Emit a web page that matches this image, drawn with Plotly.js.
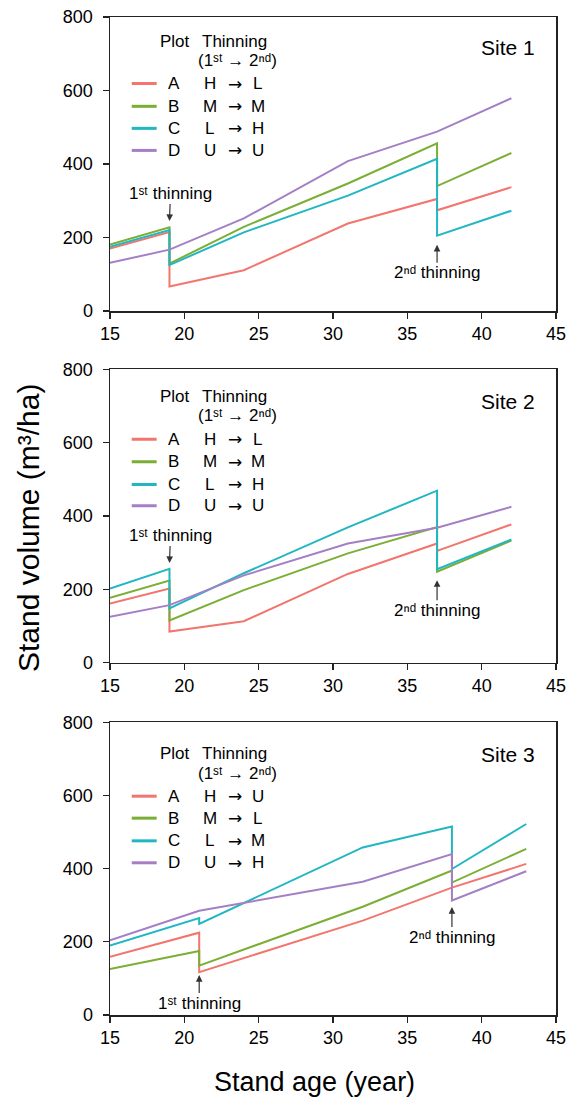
<!DOCTYPE html>
<html>
<head>
<meta charset="utf-8">
<script src="https://cdn.plot.ly/plotly-3.0.1.min.js"></script>
<style>html,body{margin:0;padding:0;background:#fff;}#chart{width:573px;height:1101px;}</style>
</head>
<body>
<div id="chart"></div>
<script>
// ---- data ----
const plotNames = ['A', 'B', 'C', 'D'];
const colors = ['#F2766E', '#7AAE35', '#20B7C2', '#A47FC6'];

// Site 1 & 2: thinnings at age 19 and 37
const ageThin12 = [15, 19, 19, 24, 31, 37, 37, 42];
const ageUnthin12 = [15, 19, 24, 31, 37, 42];
const site1A = [170, 215, 67, 111, 238, 305, 274, 337];
const site1B = [181, 228, 129, 229, 347, 456, 340, 430];
const site1C = [175, 220, 125, 214, 314, 414, 205, 273];
const site1D = [131, 167, 252, 408, 488, 579];

const site2A = [161, 202, 85, 113, 242, 325, 305, 377];
const site2B = [177, 224, 115, 198, 298, 370, 248, 333];
const site2C = [202, 256, 148, 244, 369, 469, 255, 336];
const site2D = [125, 157, 238, 325, 368, 425];

// Site 3: thinnings at age 21 and 38
const ageThin3 = [15, 21, 21, 32, 38, 38, 43];
const ageA3 = [15, 21, 21, 32, 38, 43];
const ageD3 = [15, 21, 32, 38, 38, 43];
const site3A = [159, 225, 117, 258, 348, 413];
const site3B = [126, 175, 135, 296, 395, 362, 454];
const site3C = [190, 265, 249, 458, 515, 399, 522];
const site3D = [204, 285, 364, 440, 313, 393];

const firstThin = ['H', 'M', 'L', 'U'];
const secondThin12 = ['L', 'M', 'H', 'U'];
const secondThin3 = ['U', 'L', 'M', 'H'];

const xTicks = [15, 20, 25, 30, 35, 40, 45];
const yTicks = [0, 200, 400, 600, 800];

// ---- build ----
const sites = [
  {ax: '', xs: [ageThin12, ageThin12, ageThin12, ageUnthin12], ys: [site1A, site1B, site1C, site1D], second: secondThin12,
   legY: [734, 681, 619, 557, 497, 437], siteY: 716, label: 'Site 1'},
  {ax: '2', xs: [ageThin12, ageThin12, ageThin12, ageUnthin12], ys: [site2A, site2B, site2C, site2D], second: secondThin12,
   legY: [727, 673, 609, 548, 486, 428], siteY: 712, label: 'Site 2'},
  {ax: '3', xs: [ageA3, ageThin3, ageThin3, ageD3], ys: [site3A, site3B, site3C, site3D], second: secondThin3,
   legY: [715, 660, 598, 538, 476, 416], siteY: 712, label: 'Site 3'}
];

const FONT = 'Liberation Sans, Arial, sans-serif';
const ARROWFONT = 'DejaVu Sans, sans-serif';
const ST = '\u02E2\u1D57';   // superscript "st"
const ND = '\u207F\u1D48';   // superscript "nd"
const traces = [];
const annotations = [];
const shapes = [];

sites.forEach((s) => {
  const xr = 'x' + s.ax, yr = 'y' + s.ax;
  for (let i = 0; i < 4; i++) {
    traces.push({
      x: s.xs[i], y: s.ys[i], type: 'scatter', mode: 'lines',
      xaxis: xr, yaxis: yr, showlegend: false,
      line: {color: colors[i], width: 2}
    });
  }
  // legend header
  annotations.push({xref: xr, yref: yr, x: 19.37, y: s.legY[0], text: 'Plot', showarrow: false,
    xanchor: 'center', yanchor: 'middle', font: {family: FONT, size: 17, color: '#000'}});
  annotations.push({xref: xr, yref: yr, x: 23.4, y: s.legY[0], text: 'Thinning', showarrow: false,
    xanchor: 'center', yanchor: 'middle', font: {family: FONT, size: 17, color: '#000'}});
  annotations.push({xref: xr, yref: yr, x: 23.6, y: s.legY[1], text: '(1' + ST + ' → 2' + ND + ')', showarrow: false,
    xanchor: 'center', yanchor: 'middle', font: {family: FONT, size: 17, color: '#000'}});
  for (let i = 0; i < 4; i++) {
    const yy = s.legY[i + 2];
    shapes.push({type: 'line', xref: xr, yref: yr, x0: 16.46, x1: 18.14, y0: yy, y1: yy,
      line: {color: colors[i], width: 3}});
    const cols = [[19.3, plotNames[i], FONT], [21.72, firstThin[i], FONT], [23.4, '→', ARROWFONT], [24.95, s.second[i], FONT]];
    cols.forEach(c => annotations.push({xref: xr, yref: yr, x: c[0], y: yy, text: c[1], showarrow: false,
      xanchor: 'center', yanchor: 'middle', font: {family: c[2], size: 17, color: '#000'}}));
  }
  annotations.push({xref: xr, yref: yr, x: 43.7, y: s.siteY, text: s.label, showarrow: false,
    xanchor: 'right', yanchor: 'middle', font: {family: FONT, size: 21, color: '#000'}});
});

// thinning annotations: [axis, tipX, tipY, ax(px), ay(px), label]
const thinNotes = [
  ['', 19, 245, 1, -27, '1' + ST + ' thinning'],
  ['', 37, 180, 0, 28, '2' + ND + ' thinning'],
  ['2', 19, 272, 1, -27, '1' + ST + ' thinning'],
  ['2', 37, 225, 0, 30, '2' + ND + ' thinning'],
  ['3', 21, 109, 0, 28, '1' + ST + ' thinning'],
  ['3', 38, 295, 0, 30, '2' + ND + ' thinning']
];
thinNotes.forEach(n => {
  const xr = 'x' + n[0], yr = 'y' + n[0];
  annotations.push({xref: xr, yref: yr, x: n[1], y: n[2], text: n[5], showarrow: true,
    ax: n[3], ay: n[4], arrowhead: 2, arrowsize: 1.1, arrowwidth: 1.2, arrowcolor: '#333', standoff: 0,
    startstandoff: 0, borderpad: 0,
    font: {family: FONT, size: 17, color: '#000'}});
});

// axis titles
annotations.push({xref: 'paper', yref: 'paper', x: -0.1816, y: 0.488, text: 'Stand volume (m³/ha)',
  textangle: -90, showarrow: false, xanchor: 'center', yanchor: 'middle', font: {family: FONT, size: 30, color: '#000'}});
annotations.push({xref: 'paper', yref: 'paper', x: 0.4596, y: -0.0671, text: 'Stand age (year)',
  showarrow: false, xanchor: 'center', yanchor: 'middle', font: {family: FONT, size: 27, color: '#000'}});

function xa(anchor) {
  return {range: [15, 45], tickvals: xTicks, ticktext: xTicks.map(String), anchor: anchor,
    ticks: 'outside', ticklen: 6, tickwidth: 1.2, tickcolor: '#222', showgrid: false, zeroline: false,
    showline: true, linecolor: '#222', linewidth: 1.5, mirror: true,
    tickfont: {family: FONT, size: 18, color: '#000'}};
}
function ya(anchor, dom) {
  return {range: [0, 800], tickvals: yTicks, ticktext: yTicks.map(String), anchor: anchor, domain: dom,
    ticks: 'outside', ticklen: 6, tickwidth: 1.2, tickcolor: '#222', showgrid: false, zeroline: false,
    showline: true, linecolor: '#222', linewidth: 1.5, mirror: true, ticklabelstandoff: 6,
    tickfont: {family: FONT, size: 18, color: '#000'}};
}

const layout = {
  width: 573, height: 1101,
  margin: {l: 110, r: 17, t: 17, b: 86},
  paper_bgcolor: '#fff', plot_bgcolor: '#fff',
  showlegend: false,
  xaxis: xa('y'), xaxis2: xa('y2'), xaxis3: xa('y3'),
  yaxis: ya('x', [0.7054, 1]), yaxis2: ya('x2', [0.3530, 0.6470]), yaxis3: ya('x3', [0, 0.2933]),
  annotations: annotations, shapes: shapes
};

Plotly.newPlot('chart', traces, layout, {staticPlot: true, displayModeBar: false});
</script>
</body>
</html>
